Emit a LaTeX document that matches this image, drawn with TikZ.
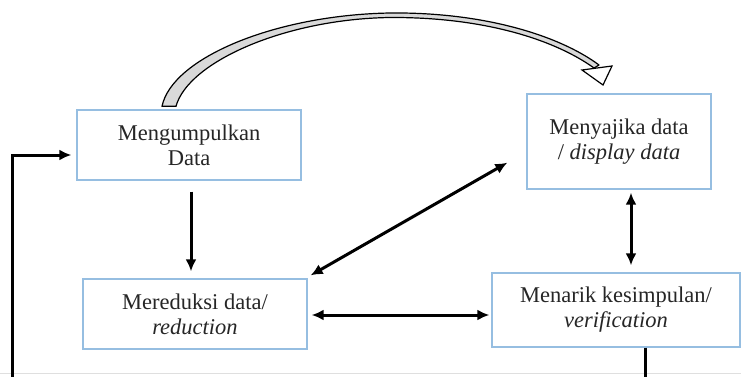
\documentclass[tikz,border=0pt]{standalone}
\usepackage{fontspec}
\setmainfont{Liberation Serif}
\usetikzlibrary{arrows.meta,calc}
\definecolor{boxblue}{RGB}{150,190,225}
\begin{document}
\begin{tikzpicture}[x=1pt,y=-1pt,
  box/.style={draw=boxblue,line width=1.3pt,fill=white,minimum width=#1,inner sep=0pt,align=center,
    font=\fontsize{22.5}{25}\selectfont,text=black!85},
  conn/.style={line width=3pt,-{Latex[length=12pt,width=11pt]}},
  dconn/.style={line width=3pt,{Latex[length=12pt,width=11pt]}-{Latex[length=12pt,width=11pt]}},
  plain/.style={line width=3pt}]
\useasboundingbox (0,0) rectangle (741,377);
\begin{scope}
\clip (0,0) rectangle (741,377);
\draw[gray!25,line width=0.8pt] (0,373) -- (741,373);

\node[box=224pt,minimum height=70pt] (n1) at (189,145) {Mengumpulkan\\Data};
\node[box=184pt,minimum height=95pt] (n2) at (619,141.5) {Menyajika data\\/ \textit{display data}};
\node[box=224pt,minimum height=70pt] (n3) at (195,314) {Mereduksi data/\\\textit{reduction}};
\node[box=248pt,minimum height=74pt] (n4) at (616,310) {Menarik kesimpulan/\\\textit{verification}};

\coordinate (bl) at (12,380);
\coordinate (br) at (645,380);

% n1 -> n3
\draw[conn] ($(n1.south)+(2,11)$) -- ($(n1.south |- n3.north)+(2,-7)$);
% n3 <-> n2
\draw[dconn] ($(n3.north east)+(3,-3)$) -- ($(n2.south west)+(-19,-27)$);
% n3 <-> n4
\draw[dconn] ($(n3.east)+(4,1)$) -- ($(n4.west)+(-2,5)$);
% n2 <-> n4
\draw[dconn] ($(n2.south)+(12,3)$) -- ($(n4.north)+(15,-7)$);
% feedback
\draw[plain] ($(n4.south)+(29,0)$) -- (br);
\draw[conn] (bl) |- ($(n1.west)+(-5,10)$);

% curved hollow arrow n1 -> n2
\coordinate (cs1) at ($(n1.north)+(-27,-3)$);
\coordinate (cs2) at ($(n1.north)+(-13,-3)$);
\filldraw[fill=gray!30,draw=black,line width=1.2pt,line join=round]
  (cs1) .. controls (172,58) and (275,15) .. (390,13)
        .. controls (485,12) and (560,36) .. (599,65)
  -- (594,68)
        .. controls (555,40) and (485,17) .. (390,17.5)
        .. controls (285,19) and (188,62) .. (cs2) -- cycle;
\filldraw[fill=white,draw=black,line width=1.2pt,line join=miter]
  (612,66) -- (603,85) -- (582,70) -- cycle;
\end{scope}
\end{tikzpicture}
\end{document}
